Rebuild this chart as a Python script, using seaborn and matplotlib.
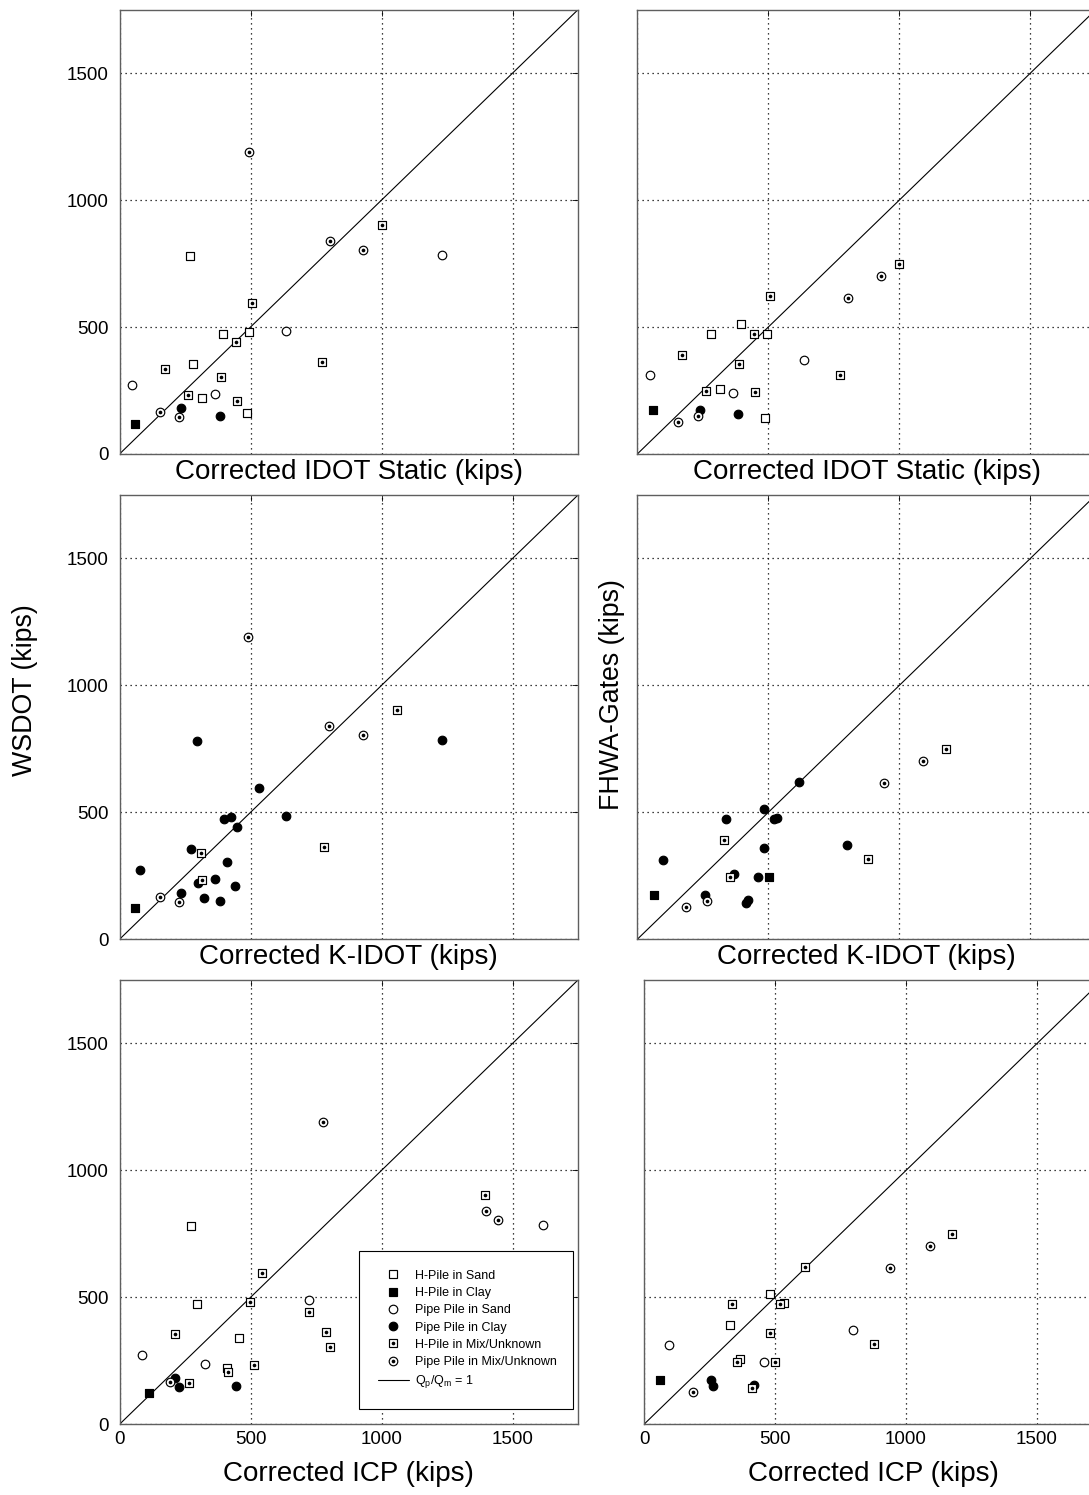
import matplotlib
matplotlib.use("Agg")
import matplotlib.pyplot as plt
from matplotlib.lines import Line2D
import pandas as pd
import seaborn as sns

# ---------------------------------------------------------------------------
# Pile groups
# ---------------------------------------------------------------------------
pile_codes = ["HS", "HC", "PS", "PC", "HM", "PM"]
pile_names = ["H-Pile in Sand", "H-Pile in Clay", "Pipe Pile in Sand",
              "Pipe Pile in Clay", "H-Pile in Mix/Unknown", "Pipe Pile in Mix/Unknown"]

axis_ticks = [0, 500, 1000, 1500]
axis_limit = 1750

# ---------------------------------------------------------------------------
# Corrected IDOT Static vs WSDOT (kips)
# ---------------------------------------------------------------------------
idot_ws_x = [270, 395, 496, 281, 313, 485, 58, 1231, 634, 48, 365, 236, 384,
             1000, 507, 446, 774, 173, 388, 262, 447, 494, 803, 930, 155, 229]
idot_ws_y = [778, 472, 480, 354, 222, 160, 119, 782, 486, 272, 236, 182, 148,
             902, 593, 442, 364, 336, 303, 231, 207, 1189, 840, 804, 167, 146]
idot_ws_pile = ["HS", "HS", "HS", "HS", "HS", "HS", "HC", "PS", "PS", "PS", "PS", "PC", "PC",
                "HM", "HM", "HM", "HM", "HM", "HM", "HM", "HM", "PM", "PM", "PM", "PM", "PM"]

# Corrected IDOT Static vs FHWA-Gates (kips)
idot_fh_x = [396, 281, 496, 314, 486, 60, 636, 50, 365, 238, 386,
             1000, 508, 447, 172, 387, 775, 261, 449, 930, 804, 230, 155]
idot_fh_y = [513, 474, 471, 256, 143, 172, 371, 312, 241, 175, 156,
             747, 621, 474, 390, 356, 311, 247, 244, 701, 615, 151, 125]
idot_fh_pile = ["HS", "HS", "HS", "HS", "HS", "HC", "PS", "PS", "PS", "PC", "PC",
                "HM", "HM", "HM", "HM", "HM", "HM", "HM", "HM", "PM", "PM", "PM", "PM"]

# Corrected K-IDOT vs WSDOT (kips)
kidot_ws_x = [61, 294, 1231, 532, 634, 398, 427, 447, 273, 409, 78, 365, 301, 441,
              236, 324, 384, 1061, 780, 311, 315, 492, 800, 928, 156, 229]
kidot_ws_y = [122, 781, 785, 594, 487, 472, 482, 444, 356, 306, 274, 238, 220, 210,
              184, 163, 150, 904, 365, 339, 234, 1190, 840, 804, 168, 147]
kidot_ws_pile = ["HC", "PC", "PC", "PC", "PC", "PC", "PC", "PC", "PC", "PC", "PC", "PC", "PC", "PC",
                 "PC", "PC", "PC", "HM", "HM", "HM", "HM", "PM", "PM", "PM", "PM", "PM"]

# Corrected K-IDOT vs FHWA-Gates (kips)
kidot_fh_x = [501, 62, 616, 483, 337, 522, 534, 483, 799, 98, 369, 461, 257, 413, 422,
              1177, 330, 880, 355, 1092, 941, 265, 186]
kidot_fh_y = [247, 173, 621, 514, 475, 472, 476, 358, 373, 314, 256, 244, 176, 144, 155,
              749, 392, 315, 247, 701, 617, 152, 126]
kidot_fh_pile = ["HC", "HC", "PC", "PC", "PC", "PC", "PC", "PC", "PC", "PC", "PC", "PC", "PC", "PC", "PC",
                 "HM", "HM", "HM", "HM", "PM", "PM", "PM", "PM"]

# Corrected ICP vs WSDOT (kips)
icp_ws_x = [271, 297, 455, 410, 112, 1616, 723, 84, 325, 213, 226, 445,
            1396, 545, 497, 724, 789, 802, 212, 414, 513, 266, 775, 1399, 1446, 191]
icp_ws_y = [780, 472, 339, 220, 122, 785, 488, 274, 238, 184, 147, 150,
            903, 594, 480, 444, 365, 306, 354, 207, 232, 163, 1190, 841, 806, 167]
icp_ws_pile = ["HS", "HS", "HS", "HS", "HC", "PS", "PS", "PS", "PS", "PC", "PC", "PC",
               "HM", "HM", "HM", "HM", "HM", "HM", "HM", "HM", "HM", "HM", "PM", "PM", "PM", "PM"]

# Corrected ICP vs FHWA-Gates (kips)
icp_fh_x = [482, 533, 330, 368, 60, 798, 97, 459, 257, 262, 421,
            1176, 615, 335, 520, 482, 879, 355, 501, 411, 1090, 939, 186]
icp_fh_y = [514, 476, 392, 256, 173, 373, 314, 244, 176, 152, 155,
            749, 621, 475, 474, 358, 315, 247, 247, 144, 701, 617, 126]
icp_fh_pile = ["HS", "HS", "HS", "HS", "HC", "PS", "PS", "PS", "PC", "PC", "PC",
               "HM", "HM", "HM", "HM", "HM", "HM", "HM", "HM", "HM", "PM", "PM", "PM"]

# ---------------------------------------------------------------------------
# Styling
# ---------------------------------------------------------------------------
sns.set_theme(style="white")
plt.rcParams["font.family"] = ["Liberation Sans", "DejaVu Sans"]
plt.rcParams["mathtext.fontset"] = "custom"
plt.rcParams["mathtext.rm"] = "Liberation Sans"

SQ_SIZE = 30
CI_SIZE = 38
DOT_SIZE = 7
EDGE_W = 0.85

marker_styles = {
    "HS": dict(marker="s", face="white", size=SQ_SIZE, dot=False),
    "HC": dict(marker="s", face="black", size=SQ_SIZE, dot=False),
    "PS": dict(marker="o", face="white", size=CI_SIZE, dot=False),
    "PC": dict(marker="o", face="black", size=CI_SIZE, dot=False),
    "HM": dict(marker="s", face="white", size=SQ_SIZE, dot=True),
    "PM": dict(marker="o", face="white", size=CI_SIZE, dot=True),
}

TICK_FS = 13.5
XLABEL_FS = 20
YLABEL_FS = 19.3

fig = plt.figure(figsize=(10.89, 14.95), dpi=100)

W = 458.5 / 1089
H = 444.3 / 1495


def axes_at(left_px, bottom_px):
    return fig.add_axes([left_px / 1089, 1 - bottom_px / 1495, W, H])


def draw_panel(ax, xs, ys, piles):
    df = pd.DataFrame({"x": xs, "y": ys, "pile": piles})
    ax.axline((0, 0), slope=1, color="black", lw=0.8, zorder=2)
    for code in pile_codes:
        sub = df[df["pile"] == code]
        if sub.empty:
            continue
        st = marker_styles[code]
        sns.scatterplot(data=sub, x="x", y="y", ax=ax, marker=st["marker"],
                        s=st["size"], facecolor=st["face"], edgecolor="black",
                        linewidth=EDGE_W, zorder=3, legend=False)
        if st["dot"]:
            sns.scatterplot(data=sub, x="x", y="y", ax=ax, marker="o",
                            s=DOT_SIZE, color="black", linewidth=0,
                            zorder=4, legend=False)
    ax.set_xlim(0, axis_limit)
    ax.set_ylim(0, axis_limit)
    ax.set_xticks(axis_ticks)
    ax.set_yticks(axis_ticks)
    ax.grid(True, color="black", linestyle=(0, (1, 3.0)), linewidth=0.9)
    ax.set_axisbelow(True)
    ax.tick_params(which="both", direction="in", top=True, right=True,
                   length=4, width=0.6, color="black", labelsize=TICK_FS,
                   labelcolor="black")
    ax.tick_params(axis="y", pad=8)
    ax.tick_params(axis="x", pad=5)
    for sp in ax.spines.values():
        sp.set_color("#5f5f5f")
        sp.set_linewidth(1.0)
    ax.set_xlabel("")
    ax.set_ylabel("")


panels = [
    (119.5, 454.0, idot_ws_x, idot_ws_y, idot_ws_pile, "Corrected IDOT Static (kips)", True, False),
    (637.3, 454.0, idot_fh_x, idot_fh_y, idot_fh_pile, "Corrected IDOT Static (kips)", False, False),
    (119.5, 939.3, kidot_ws_x, kidot_ws_y, kidot_ws_pile, "Corrected K-IDOT (kips)", True, False),
    (637.3, 939.3, kidot_fh_x, kidot_fh_y, kidot_fh_pile, "Corrected K-IDOT (kips)", False, False),
    (119.5, 1424.3, icp_ws_x, icp_ws_y, icp_ws_pile, "Corrected ICP (kips)", True, True),
    (644.0, 1424.3, icp_fh_x, icp_fh_y, icp_fh_pile, "Corrected ICP (kips)", False, True),
]

axes = []
for left, bottom, xs, ys, piles, xlab, show_y, show_x in panels:
    ax = axes_at(left, bottom)
    draw_panel(ax, xs, ys, piles)
    ax.tick_params(labelleft=show_y, labelbottom=show_x)
    ax.set_xlabel(xlab, fontsize=XLABEL_FS, labelpad=9 if show_x else 3.5, color="black")
    axes.append(ax)

# Vertical axis titles for each column
axes[2].set_ylabel("WSDOT (kips)", fontsize=YLABEL_FS, color="black")
axes[2].yaxis.label.set_va("center")
axes[2].yaxis.set_label_coords(-0.206, 0.561)
axes[3].set_ylabel("FHWA-Gates (kips)", fontsize=YLABEL_FS, color="black")
axes[3].yaxis.label.set_va("center")
axes[3].yaxis.set_label_coords(-0.055, 0.55)

# Legend for the pile groups
handles = []
for code in pile_codes:
    st = marker_styles[code]
    base = Line2D([], [], ls="none", marker=st["marker"], ms=st["size"] ** 0.5,
                  mfc=st["face"], mec="black", mew=EDGE_W)
    if st["dot"]:
        dot = Line2D([], [], ls="none", marker="o", ms=DOT_SIZE ** 0.5,
                     mfc="black", mec="black", mew=0)
        handles.append((base, dot))
    else:
        handles.append(base)
handles.append(Line2D([], [], color="black", lw=0.8))
labels = pile_names + [r"Q$_\mathregular{p}$/Q$_\mathregular{m}$ = 1"]

leg = axes[4].legend(handles, labels, loc="upper center",
                     bbox_to_anchor=(0.522, 0.034, 0.467, 0.356), mode="expand",
                     fontsize=9, frameon=True, fancybox=False, shadow=False,
                     framealpha=1, edgecolor="black", borderpad=1.5,
                     labelspacing=0.42, handlelength=2.5, handletextpad=0.5,
                     borderaxespad=0)
leg.get_frame().set_linewidth(0.8)
for t in leg.get_texts():
    t.set_color("black")

fig.savefig("out.png", dpi=100)
